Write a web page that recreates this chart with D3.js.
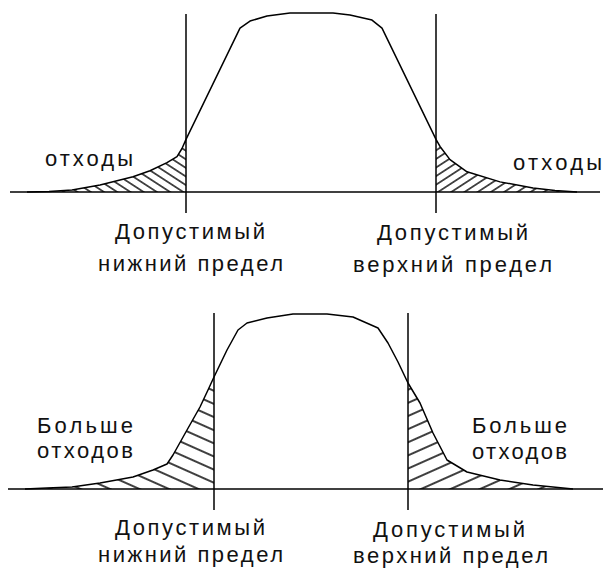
<!DOCTYPE html>
<html>
<head>
<meta charset="utf-8">
<script src="https://cdn.jsdelivr.net/npm/d3@7/dist/d3.min.js"></script>
<style>
  html, body { margin: 0; padding: 0; background: #fff; }
  svg { display: block; }
  text { font-family: "Liberation Sans", Arial, sans-serif; font-size: 22px; fill: #111; }
</style>
</head>
<body>
<svg id="chart" width="603" height="568"></svg>
<script>
// Distribution of a process parameter (x) vs. frequency (y), two cases.
// Top: narrow spread, few rejects. Bottom: wider spread, more rejects.
const topX = [17, 39, 62, 90, 123, 140, 157, 167, 172, 176, 230, 240, 257, 280, 323, 340, 362, 372, 426, 430, 440, 457, 490, 523, 545, 567];
const topY = [0, 0.5, 2, 7, 15, 21, 29, 35, 43, 52, 162, 169, 174, 177, 177, 175, 170, 162, 52, 45, 32, 20, 10, 4, 1.5, 0];
const topLimits = [176, 426];

const botX = [15, 37, 62, 90, 123, 143, 157, 163, 177, 190, 198, 204, 217, 228, 237, 257, 283, 317, 343, 368, 378, 388, 398, 410, 423, 437, 457, 490, 523, 563];
const botY = [0, 1, 2, 6, 12, 19, 25, 34, 59, 82, 99, 112, 139, 159, 166, 171, 175, 175, 172, 161, 146, 127, 106, 86, 56, 29, 17, 9, 4, 0];
const botLimits = [204, 398];

const limitLabel = ["Допустимый", "нижний предел"];
const upperLabel = ["Допустимый", "верхний предел"];
const topWaste = ["отходы"];
const botWaste = ["Больше", "отходов"];

const svg = d3.select("#chart");
const x = d3.scaleLinear().domain([0, 590]).range([10, 600]);

const defs = svg.append("defs");
function hatch(id, angle, gap) {
  const p = defs.append("pattern")
    .attr("id", id)
    .attr("patternUnits", "userSpaceOnUse")
    .attr("width", 40).attr("height", gap)
    .attr("patternTransform", `rotate(${angle})`);
  p.append("line")
    .attr("x1", 0).attr("x2", 40)
    .attr("y1", gap / 2).attr("y2", gap / 2)
    .attr("stroke", "#000").attr("stroke-width", 1.3);
}
hatch("hatchTopL", 33, 7.2);
hatch("hatchTopR", -33, 7.2);
hatch("hatchBotL", 24, 12);
hatch("hatchBotR", -24, 12);

function panel(cfg) {
  const y = d3.scaleLinear().domain([0, 176]).range([cfg.base, cfg.top]);
  const pts = cfg.xs.map((v, i) => [v, cfg.ys[i]]);
  const g = svg.append("g");

  const line = d3.line().x(d => x(d[0])).y(d => y(d[1]));
  const area = d3.area().x(d => x(d[0])).y0(y(0)).y1(d => y(d[1]));

  // clip regions for the tails outside the limits
  const [lo, hi] = cfg.limits;
  const cl = defs.append("clipPath").attr("id", cfg.id + "L");
  cl.append("rect").attr("x", 0).attr("y", 0).attr("width", x(lo)).attr("height", 568);
  const cr = defs.append("clipPath").attr("id", cfg.id + "R");
  cr.append("rect").attr("x", x(hi)).attr("y", 0).attr("width", 603 - x(hi)).attr("height", 568);

  g.append("path").attr("d", area(pts)).attr("fill", `url(#${cfg.hatchL})`)
    .attr("clip-path", `url(#${cfg.id}L)`);
  g.append("path").attr("d", area(pts)).attr("fill", `url(#${cfg.hatchR})`)
    .attr("clip-path", `url(#${cfg.id}R)`);

  // baseline
  g.append("line")
    .attr("x1", x(cfg.axis[0])).attr("x2", x(cfg.axis[1]))
    .attr("y1", y(0)).attr("y2", y(0))
    .attr("stroke", "#000").attr("stroke-width", 1.5);

  // limit lines
  cfg.limits.forEach(v => {
    g.append("line")
      .attr("x1", x(v)).attr("x2", x(v))
      .attr("y1", cfg.top).attr("y2", cfg.base + 21)
      .attr("stroke", "#000").attr("stroke-width", 1.5);
  });

  g.append("path").attr("d", line(pts))
    .attr("fill", "none").attr("stroke", "#000").attr("stroke-width", 1.5)
    .attr("stroke-linejoin", "round");

  // labels
  cfg.labels.forEach(l => {
    g.append("text")
      .attr("x", l.x).attr("y", l.y)
      .attr("textLength", l.w).attr("lengthAdjust", "spacing")
      .text(l.t);
  });
}

panel({
  id: "top", xs: topX, ys: topY, limits: topLimits, base: 192, top: 14,
  axis: [0, 590], hatchL: "hatchTopL", hatchR: "hatchTopR",
  labels: [
    { t: topWaste[0], x: 45, y: 166, w: 88 },
    { t: topWaste[0], x: 513, y: 170, w: 89 },
    { t: limitLabel[0], x: 115, y: 239, w: 150 },
    { t: limitLabel[1], x: 98, y: 271, w: 185 },
    { t: upperLabel[0], x: 377, y: 240, w: 151 },
    { t: upperLabel[1], x: 353, y: 272, w: 199 }
  ]
});

panel({
  id: "bot", xs: botX, ys: botY, limits: botLimits, base: 489, top: 313,
  axis: [-2, 593], hatchL: "hatchBotL", hatchR: "hatchBotR",
  labels: [
    { t: botWaste[0], x: 37, y: 433, w: 96 },
    { t: botWaste[1], x: 37, y: 458, w: 96 },
    { t: botWaste[0], x: 472, y: 433, w: 95 },
    { t: botWaste[1], x: 472, y: 459, w: 95 },
    { t: limitLabel[0], x: 115, y: 535, w: 150 },
    { t: limitLabel[1], x: 98, y: 562, w: 185 },
    { t: upperLabel[0], x: 373, y: 537, w: 152 },
    { t: upperLabel[1], x: 353, y: 563, w: 195 }
  ]
});
</script>
</body>
</html>
